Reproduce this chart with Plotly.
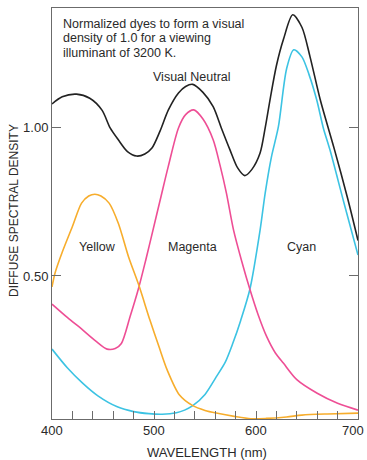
import plotly.graph_objects as go

# Wavelength (nm) / diffuse spectral density readings
neutral_x = [400, 410, 424, 437, 449, 457, 465, 474, 483, 491, 498, 506, 514, 524, 531, 538,
             548, 558, 566, 574.5, 582, 589, 596, 604, 609, 614, 620, 627, 636, 645, 653,
             663, 677, 690, 700]
neutral_y = [1.081, 1.105, 1.114, 1.10, 1.06, 1.00, 0.96, 0.92, 0.905, 0.912, 0.932, 0.99,
             1.06, 1.118, 1.14, 1.147, 1.12, 1.072, 1.00, 0.926, 0.865, 0.839, 0.86, 0.915,
             1.00, 1.10, 1.21, 1.30, 1.382, 1.34, 1.24, 1.095, 0.926, 0.76, 0.62]

cyan_x = [400, 415, 430, 445, 464, 480, 495, 508, 522, 530, 538, 550, 561, 570, 577, 585,
          594, 604, 609, 615, 622, 630, 637, 645, 652, 659.5, 666, 672.5, 686, 700]
cyan_y = [0.253, 0.19, 0.138, 0.095, 0.058, 0.042, 0.035, 0.033, 0.038, 0.047, 0.062, 0.10,
          0.159, 0.21, 0.27, 0.35, 0.455, 0.655, 0.78, 0.90, 1.005, 1.20, 1.264, 1.24, 1.18,
          1.095, 1.00, 0.926, 0.75, 0.571]

magenta_x = [400, 415, 430, 443, 454, 462, 468, 476.5, 484.6, 492, 499, 507, 514, 524, 531,
             539, 548, 558, 565, 571, 578, 586, 594, 602, 610.5, 619, 627, 640, 660, 680, 700]
magenta_y = [0.405, 0.36, 0.318, 0.28, 0.253, 0.255, 0.272, 0.362, 0.455, 0.555, 0.655, 0.77,
             0.87, 1.00, 1.045, 1.061, 1.03, 0.96, 0.87, 0.78, 0.655, 0.55, 0.455, 0.37,
             0.295, 0.24, 0.205, 0.15, 0.104, 0.07, 0.047]

yellow_x = [400, 403, 410, 420, 429, 436, 442, 448, 456, 465, 475, 485, 496, 505, 513, 525,
            538, 550, 561, 580, 595, 610, 630, 645, 670, 700]
yellow_y = [0.463, 0.51, 0.58, 0.667, 0.746, 0.77, 0.776, 0.77, 0.746, 0.678, 0.565, 0.47,
            0.351, 0.26, 0.182, 0.098, 0.062, 0.046, 0.037, 0.025, 0.018, 0.019, 0.024, 0.03,
            0.034, 0.037]

x_ticks = [400, 500, 600, 700]
x_tick_text = ["400", "500", "600", "700"]
y_ticks = [0.5, 1.0]
y_tick_text = ["0.50", "1.00"]

note_lines = ["Normalized dyes to form a visual", "density of 1.0 for a viewing",
              "illuminant of 3200 K."]
x_title = "WAVELENGTH (nm)"
y_title = "DIFFUSE SPECTRAL DENSITY"

FONT = "Liberation Sans, Arial, Helvetica, sans-serif"
TXT = "#2a2a2a"
AX = "#6b6b6b"

fig = go.Figure()
series = [
    (neutral_x, neutral_y, "#222222"),
    (cyan_x, cyan_y, "#3cc3e3"),
    (magenta_x, magenta_y, "#ee4e95"),
    (yellow_x, yellow_y, "#f7ad2c"),
]
for xs, ys, col in series:
    fig.add_trace(go.Scatter(x=xs, y=ys, mode="lines",
                             line=dict(color=col, width=1.6, shape="spline", smoothing=0.8),
                             hoverinfo="skip", showlegend=False))

fig.update_layout(
    width=367, height=460,
    margin=dict(l=52, r=9, t=8, b=41, autoexpand=False),
    paper_bgcolor="white", plot_bgcolor="white",
    font=dict(family=FONT, color=TXT, size=12),
    xaxis=dict(range=[400, 700], tickvals=x_ticks, ticks="inside", ticklen=8,
               tickcolor=AX, showline=True, linecolor=AX, linewidth=1, mirror=True,
               showgrid=False, zeroline=False, automargin=False, showticklabels=False,
               minor=dict(dtick=20, tick0=400, ticks="inside", ticklen=8, tickcolor=AX, showgrid=False)),
    yaxis=dict(range=[0.017, 1.405], tickvals=y_ticks, ticktext=y_tick_text,
               ticks="inside", ticklen=9, tickcolor=AX,
               showline=True, linecolor=AX, linewidth=1, mirror="ticks",
               showgrid=False, zeroline=False, automargin=False, ticklabeloverflow="allow",
               tickfont=dict(size=13, color=TXT)),
)

# x tick labels (last one right-aligned so it stays inside the page)
for i, (v, t) in enumerate(zip(x_ticks, x_tick_text)):
    last = i == len(x_ticks) - 1
    fig.add_annotation(x=v, y=(419 - 430) / 411, xref="x", yref="paper", text=t,
                       showarrow=False, xanchor="right" if last else "center",
                       xshift=8 if last else 0, yanchor="middle",
                       font=dict(size=13, color=TXT, family=FONT))

def px_to_paper(px, py):
    return (px - 52) / 306, (419 - py) / 411

annos = [(61, 24 + 14.5 * i, line, "left") for i, line in enumerate(note_lines)]
annos += [
    (192, 77, "Visual Neutral", "center"),
    (97, 247, "Yellow", "center"),
    (192, 247, "Magenta", "center"),
    (301, 247, "Cyan", "center"),
]
for px, py, text, xa in annos:
    ax_, ay_ = px_to_paper(px, py)
    fig.add_annotation(x=ax_, y=ay_, xref="paper", yref="paper",
                       text=text, showarrow=False, xanchor=xa, yanchor="middle", align="left",
                       font=dict(size=12.5, color=TXT, family=FONT))

tx, ty = px_to_paper(207, 452)
fig.add_annotation(x=tx, y=ty, xref="paper", yref="paper", text=x_title, showarrow=False,
                   xanchor="center", yanchor="middle", font=dict(size=13, color=TXT, family=FONT))
tx, ty = px_to_paper(14, 211)
fig.add_annotation(x=tx, y=ty, xref="paper", yref="paper", text=y_title, showarrow=False,
                   textangle=-90, xanchor="center", yanchor="middle",
                   font=dict(size=12, color=TXT, family=FONT))

fig.write_html("out.html")
